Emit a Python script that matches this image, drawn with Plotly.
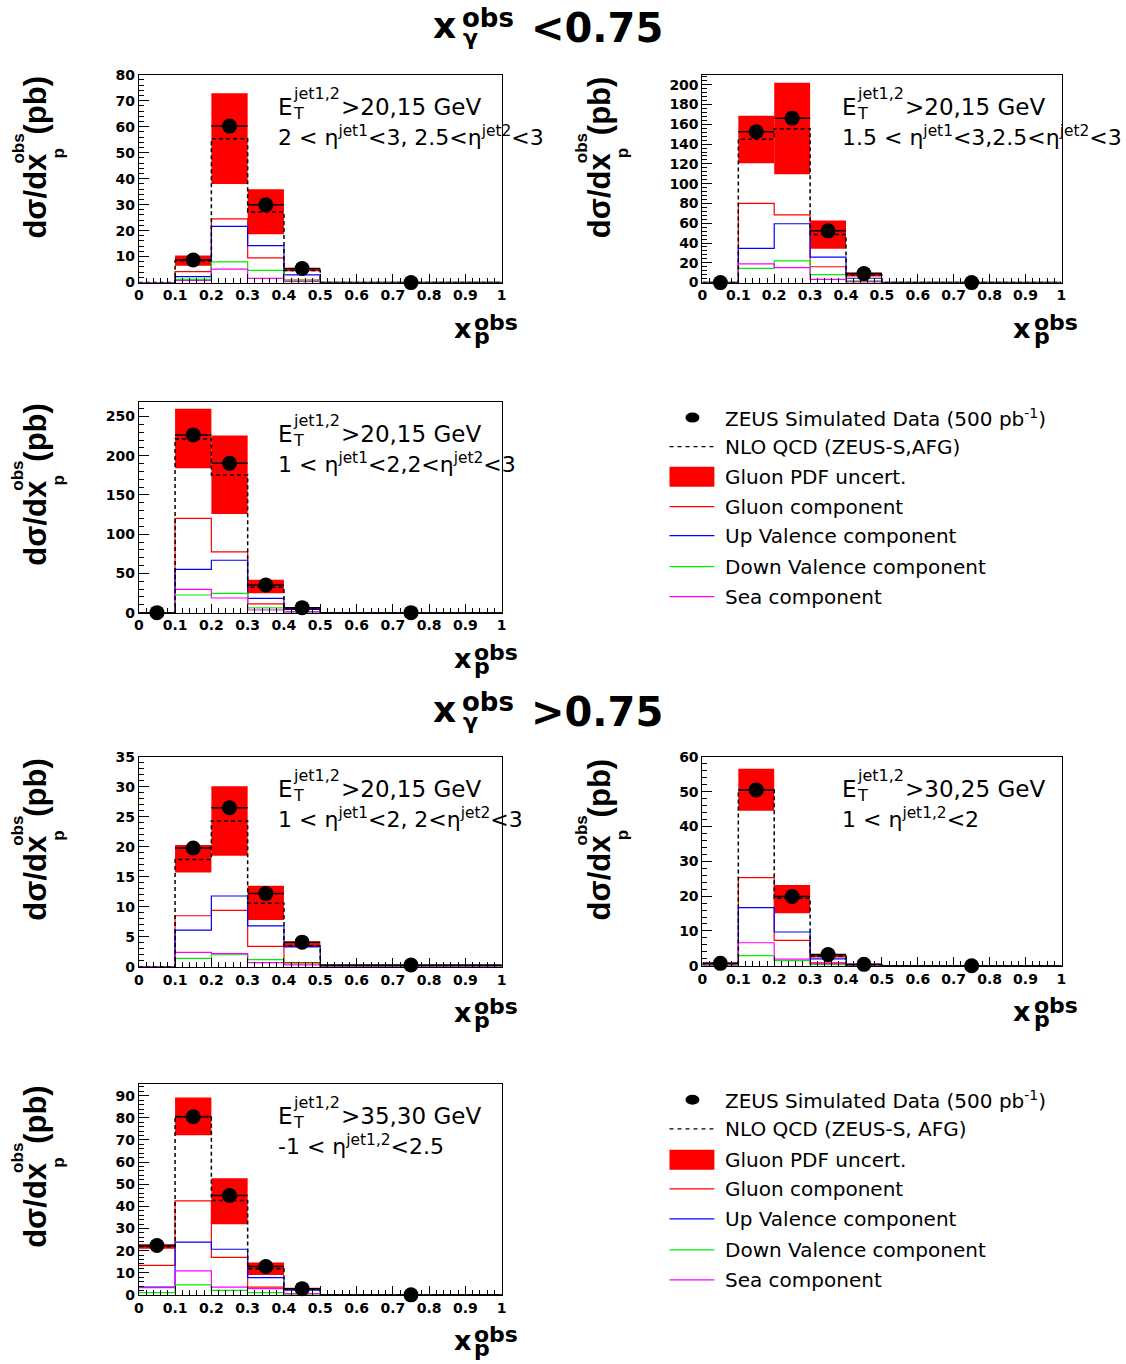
import plotly.graph_objects as go

W, H = 1126, 1364

# ---------------- data ----------------
EDGES = [0.0, 0.1, 0.2, 0.3, 0.4, 0.5, 1.0]
DATA_X = [0.05, 0.15, 0.25, 0.35, 0.45, 0.75]
X_TICK_VALS = [0, 0.1, 0.2, 0.3, 0.4, 0.5, 0.6, 0.7, 0.8, 0.9, 1.0]
X_TICK_TEXT = ["0", "0.1", "0.2", "0.3", "0.4", "0.5", "0.6", "0.7", "0.8", "0.9", "1"]

# Panel 1 : x_gamma<0.75, 2<eta1<3, 2.5<eta2<3
p1_data = [None, 8.7, 60.2, 29.9, 5.4, 0.0]
p1_err = [0, 0.3, 1.0, 0.6, 0.2, 0]
p1_nlo = [0, 8.4, 55.3, 27.2, 4.6, 0]
p1_band_lo = [None, 6.5, 37.9, 18.6, 4.4, None]
p1_band_hi = [None, 10.4, 72.8, 35.9, 5.6, None]
p1_gluon = [0, 4.2, 24.5, 9.5, 1.0, 0]
p1_upv = [0, 2.3, 21.6, 14.2, 3.0, 0]
p1_downv = [0, 1.2, 8.0, 4.7, 0.9, 0]
p1_sea = [0, 0.8, 5.2, 1.6, 0.4, 0]

# Panel 2 : x_gamma<0.75, 1.5<eta1<3, 2.5<eta2<3
p2_data = [0.0, 152.5, 166.3, 52.3, 9.1, 0.0]
p2_err = [0, 2.0, 2.0, 1.0, 0.4, 0]
p2_nlo = [0, 145.0, 155.5, 48.5, 7.8, 0]
p2_band_lo = [None, 120.7, 109.6, 34.1, 6.1, None]
p2_band_hi = [None, 168.6, 202.0, 62.9, 10.1, None]
p2_gluon = [0, 80.0, 68.5, 16.0, 1.0, 0]
p2_upv = [0, 34.5, 59.5, 25.8, 4.4, 0]
p2_downv = [0, 14.3, 22.0, 8.0, 1.8, 0]
p2_sea = [0, 18.9, 15.2, 3.2, 0.7, 0]

# Panel 3 : x_gamma<0.75, 1<eta1<2, 2<eta2<3
p3_data = [0.0, 226.6, 190.5, 35.3, 6.4, 0.0]
p3_err = [0, 2.5, 2.2, 1.0, 0.4, 0]
p3_nlo = [0, 221.5, 175.6, 32.3, 4.7, 0]
p3_band_lo = [None, 184.1, 125.8, 24.7, 3.4, None]
p3_band_hi = [None, 259.8, 225.8, 42.0, 6.8, None]
p3_gluon = [0, 120.3, 77.4, 11.1, 1.3, 0]
p3_upv = [0, 55.3, 66.8, 18.3, 4.3, 0]
p3_downv = [0, 22.5, 24.7, 6.0, 0.9, 0]
p3_sea = [0, 29.8, 18.7, 3.4, 0.9, 0]

# Panel 4 : x_gamma>0.75, 1<eta1<2, 2<eta2<3
p4_data = [None, 19.8, 26.5, 12.2, 4.1, 0.3]
p4_err = [0, 0.4, 1.2, 0.5, 0.3, 0]
p4_nlo = [0, 17.9, 24.3, 10.6, 3.5, 0.2]
p4_band_lo = [None, 15.7, 18.5, 7.8, 3.3, None]
p4_band_hi = [None, 20.3, 30.1, 13.5, 4.2, None]
p4_gluon = [0, 8.5, 9.4, 3.4, 0.7, 0.0]
p4_upv = [0, 6.1, 11.8, 6.8, 3.3, 0.2]
p4_downv = [0, 1.4, 2.0, 1.2, 0.5, 0.0]
p4_sea = [0, 2.4, 2.2, 0.7, 0.3, 0.0]

# Panel 5 : x_gamma>0.75, ET>30,25, 1<eta<2
p5_data = [0.7, 50.5, 19.9, 3.2, 0.4, 0.0]
p5_err = [0.1, 0.6, 0.5, 0.2, 0.1, 0]
p5_nlo = [0.6, 50.5, 19.4, 2.8, 0.3, 0.0]
p5_band_lo = [0.4, 44.5, 15.1, 2.4, 0.2, None]
p5_band_hi = [1.0, 56.6, 23.2, 3.4, 0.4, None]
p5_gluon = [0.4, 25.3, 7.3, 0.8, 0.1, 0]
p5_upv = [0.2, 16.7, 9.7, 2.0, 0.2, 0]
p5_downv = [0.1, 2.9, 1.5, 0.3, 0.0, 0]
p5_sea = [0.3, 6.6, 1.9, 0.6, 0.1, 0]

# Panel 6 : x_gamma>0.75, ET>35,30, -1<eta<2.5
p6_data = [22.3, 80.5, 44.9, 12.8, 2.8, 0.0]
p6_err = [0.5, 0.8, 0.6, 0.3, 0.2, 0]
p6_nlo = [21.8, 80.6, 42.6, 11.8, 2.6, 0]
p6_band_lo = [20.8, 72.1, 31.9, 9.0, 2.3, None]
p6_band_hi = [22.9, 89.2, 52.7, 14.6, 2.9, None]
p6_gluon = [13.3, 42.5, 16.9, 3.5, 0.5, 0]
p6_upv = [3.5, 23.8, 20.6, 7.8, 2.1, 0]
p6_downv = [1.0, 4.5, 2.0, 1.0, 0.3, 0]
p6_sea = [3.2, 10.8, 3.5, 2.8, 0.5, 0]

Y_MAX = [80.05, 210.4, 269.0, 35.02, 60.03, 95.4]
Y_DTICK = [10, 20, 50, 5, 10, 10]

ET_CUTS = ["&gt;20,15 GeV", "&gt;20,15 GeV", "&gt;20,15 GeV",
           "&gt;20,15 GeV", "&gt;30,25 GeV", "&gt;35,30 GeV"]
ETA_CUTS = [
    "2 &lt; η<sup>jet1</sup>&lt;3, 2.5&lt;η<sup>jet2</sup>&lt;3",
    "1.5 &lt; η<sup>jet1</sup>&lt;3,2.5&lt;η<sup>jet2</sup>&lt;3",
    "1 &lt; η<sup>jet1</sup>&lt;2,2&lt;η<sup>jet2</sup>&lt;3",
    "1 &lt; η<sup>jet1</sup>&lt;2, 2&lt;η<sup>jet2</sup>&lt;3",
    "1 &lt; η<sup>jet1,2</sup>&lt;2",
    "-1 &lt; η<sup>jet1,2</sup>&lt;2.5",
]

LEGEND1_LABELS = ["ZEUS Simulated Data (500 pb<sup>-1</sup>)", "NLO QCD (ZEUS-S,AFG)",
                  "Gluon PDF uncert.", "Gluon component", "Up Valence component",
                  "Down Valence component", "Sea component"]
LEGEND2_LABELS = ["ZEUS Simulated Data (500 pb<sup>-1</sup>)", "NLO QCD (ZEUS-S, AFG)",
                  "Gluon PDF uncert.", "Gluon component", "Up Valence component",
                  "Down Valence component", "Sea component"]

TITLE_CUTS = ["&lt;0.75", "&gt;0.75"]

PANELS = [
    dict(data=p1_data, err=p1_err, nlo=p1_nlo, lo=p1_band_lo, hi=p1_band_hi,
         gluon=p1_gluon, upv=p1_upv, downv=p1_downv, sea=p1_sea),
    dict(data=p2_data, err=p2_err, nlo=p2_nlo, lo=p2_band_lo, hi=p2_band_hi,
         gluon=p2_gluon, upv=p2_upv, downv=p2_downv, sea=p2_sea),
    dict(data=p3_data, err=p3_err, nlo=p3_nlo, lo=p3_band_lo, hi=p3_band_hi,
         gluon=p3_gluon, upv=p3_upv, downv=p3_downv, sea=p3_sea),
    dict(data=p4_data, err=p4_err, nlo=p4_nlo, lo=p4_band_lo, hi=p4_band_hi,
         gluon=p4_gluon, upv=p4_upv, downv=p4_downv, sea=p4_sea),
    dict(data=p5_data, err=p5_err, nlo=p5_nlo, lo=p5_band_lo, hi=p5_band_hi,
         gluon=p5_gluon, upv=p5_upv, downv=p5_downv, sea=p5_sea),
    dict(data=p6_data, err=p6_err, nlo=p6_nlo, lo=p6_band_lo, hi=p6_band_hi,
         gluon=p6_gluon, upv=p6_upv, downv=p6_downv, sea=p6_sea),
]

# ---------------- layout geometry (pixels in the target picture) ----------------
RECTS = [(138, 73, 502, 281), (703, 73, 1063, 281), (138, 400, 502, 611),
         (138, 755, 502, 965), (703, 755, 1063, 964), (138, 1082, 502, 1293)]

RED, BLUE, GREEN, MAGENTA = "#ff0000", "#0000ff", "#00ee00", "#ff00ff"
FONT = "DejaVu Sans"
YT_FONT = "Liberation Sans"

# small correction for the way the page is photographed
SX, OX = 0.9935, 3.9
SY, OY = 0.988, 6.5


def fx(p):
    return ((p - OX) / SX) / W


def fy(p):
    return 1 - ((p - OY) / SY) / H


annotations = []
shapes = []


def txt(x, y, s, size, bold=False, xanchor="left", angle=0, family=FONT):
    annotations.append(dict(
        x=fx(x), y=fy(y), xref="paper", yref="paper", text=s, showarrow=False,
        xanchor=xanchor, yanchor="middle", textangle=angle, borderpad=0,
        font=dict(family=family, size=size, color="black",
                  weight="bold" if bold else "normal")))


fig = go.Figure()

centers = [(EDGES[i] + EDGES[i + 1]) / 2 for i in range(len(EDGES) - 1)]
widths = [EDGES[i + 1] - EDGES[i] for i in range(len(EDGES) - 1)]
halfw = [w / 2 for w in widths]

layout_axes = {}
for k, p in enumerate(PANELS):
    s = "" if k == 0 else str(k + 1)
    xa, ya = "x" + s, "y" + s
    L, T, R, B = RECTS[k]

    # gluon PDF uncertainty band
    idx = [i for i in range(len(centers)) if p["lo"][i] is not None]
    fig.add_trace(go.Bar(
        x=[centers[i] for i in idx], y=[p["hi"][i] - p["lo"][i] for i in idx],
        base=[p["lo"][i] for i in idx], width=[widths[i] for i in idx],
        marker=dict(color=RED, line=dict(width=0)), xaxis=xa, yaxis=ya,
        showlegend=False, hoverinfo="skip"))

    # components
    for key, col in (("gluon", RED), ("upv", BLUE), ("downv", GREEN), ("sea", MAGENTA)):
        vals = p[key]
        fig.add_trace(go.Scatter(
            x=EDGES, y=vals + [vals[-1]], mode="lines", line=dict(color=col, width=1.2, shape="hv"),
            xaxis=xa, yaxis=ya, showlegend=False, hoverinfo="skip"))

    # NLO
    fig.add_trace(go.Scatter(
        x=EDGES, y=p["nlo"] + [p["nlo"][-1]], mode="lines",
        line=dict(color="black", width=1.5, shape="hv", dash="4px,3px"),
        xaxis=xa, yaxis=ya, showlegend=False, hoverinfo="skip"))

    # data points
    di = [i for i in range(len(DATA_X)) if p["data"][i] is not None]
    fig.add_trace(go.Scatter(
        x=[DATA_X[i] for i in di], y=[p["data"][i] for i in di], mode="markers",
        marker=dict(color="black", size=15, symbol="circle"),
        error_x=dict(type="data", array=[halfw[i] for i in di], color="black", thickness=1.5, width=0),
        error_y=dict(type="data", array=[p["err"][i] for i in di], color="black", thickness=1.5, width=0),
        cliponaxis=False, xaxis=xa, yaxis=ya, showlegend=False))

    tickfont = dict(family=FONT, size=14, color="black", weight="bold")
    layout_axes["xaxis" + s] = dict(
        domain=[fx(L), fx(R)], range=[0, 1.0005], anchor=ya,
        showline=True, linecolor="black", linewidth=1, mirror=True,
        ticks="inside", ticklen=9, tickcolor="black", tickwidth=1,
        tickmode="array", tickvals=X_TICK_VALS, ticktext=X_TICK_TEXT,
        minor=dict(ticks="inside", ticklen=5, dtick=0.02, tick0=0, tickcolor="black"),
        showgrid=False, zeroline=False, tickfont=tickfont, fixedrange=True)
    layout_axes["yaxis" + s] = dict(
        domain=[fy(B), fy(T)], range=[0, Y_MAX[k]], anchor=xa,
        showline=True, linecolor="black", linewidth=1, mirror=True,
        ticks="inside", ticklen=10, tickcolor="black", tickwidth=1,
        tickmode="linear", tick0=0, dtick=Y_DTICK[k],
        minor=dict(ticks="inside", ticklen=5, dtick=Y_DTICK[k] / 5, tick0=0, tickcolor="black"),
        showgrid=False, zeroline=False, tickfont=tickfont, fixedrange=True)

    # y-axis title:  dσ/dx_p^obs (pb)
    txt(L - 103, T + 121, "dσ/dx", 31, bold=True, xanchor="center", angle=-90, family=YT_FONT)
    txt(L - 121, T + 74, "obs", 17, bold=True, xanchor="center", angle=-90, family=YT_FONT)
    txt(L - 80, T + 79, "p", 17, bold=True, xanchor="center", angle=-90, family=YT_FONT)
    txt(L - 103, T + 31, "(pb)", 31, bold=True, xanchor="center", angle=-90, family=YT_FONT)

    # x-axis title: x_p^obs
    txt(R - 40, B + 46, "x", 27, bold=True, xanchor="center")
    txt(R - 29, B + 40, "obs", 22, bold=True)
    txt(R - 29, B + 54, "p", 22, bold=True)

    # panel cut text
    txt(L + 139, T + 32, "E", 23)
    txt(L + 154, T + 19, "jet1,2", 16)
    txt(L + 154, T + 39, "T", 16)
    txt(L + 202, T + 32, ET_CUTS[k], 23)
    txt(L + 139, T + 61, ETA_CUTS[k], 22)

# main titles
for j, dy in enumerate((0, 684)):
    txt(432, 24 + dy, "x", 36, bold=True)
    txt(461, 16 + dy, "obs", 26, bold=True)
    txt(462, 36 + dy, "γ", 22, bold=True)
    txt(530, 26 + dy, TITLE_CUTS[j], 40, bold=True)

# legends
LEG_ROWS = [[416, 445, 475, 505, 534, 565, 595], [1098, 1127, 1158, 1187, 1217, 1248, 1278]]
for labels, rows in zip((LEGEND1_LABELS, LEGEND2_LABELS), LEG_ROWS):
    for lab, yy in zip(labels, rows):
        txt(725, yy, lab, 20)
    y0 = rows[0]
    shapes.append(dict(type="circle", xref="paper", yref="paper", x0=fx(686), x1=fx(700),
                       y0=fy(y0 + 5), y1=fy(y0 - 5), fillcolor="black", line=dict(width=0)))
    y1 = rows[1]
    shapes.append(dict(type="line", xref="paper", yref="paper", x0=fx(670), x1=fx(714),
                       y0=fy(y1), y1=fy(y1), line=dict(color="black", width=1.2, dash="4px,4px")))
    y2 = rows[2]
    shapes.append(dict(type="rect", xref="paper", yref="paper", x0=fx(670), x1=fx(715),
                       y0=fy(y2 + 10), y1=fy(y2 - 10), fillcolor=RED, line=dict(width=0)))
    for col, yy in zip((RED, BLUE, GREEN, MAGENTA), rows[3:]):
        shapes.append(dict(type="line", xref="paper", yref="paper", x0=fx(670), x1=fx(715),
                           y0=fy(yy), y1=fy(yy), line=dict(color=col, width=1.2)))

fig.update_layout(
    width=W, height=H, margin=dict(l=0, r=0, t=0, b=0),
    paper_bgcolor="white", plot_bgcolor="white", barmode="overlay",
    showlegend=False, annotations=annotations, shapes=shapes, **layout_axes)

fig.write_html(
    "out.html",
    config={"displayModeBar": False},
    post_script=("document.documentElement.style.overflow='hidden';"
                 "document.body.style.margin='0px';document.body.style.padding='0px';"
                 "document.body.style.overflow='hidden';"))
